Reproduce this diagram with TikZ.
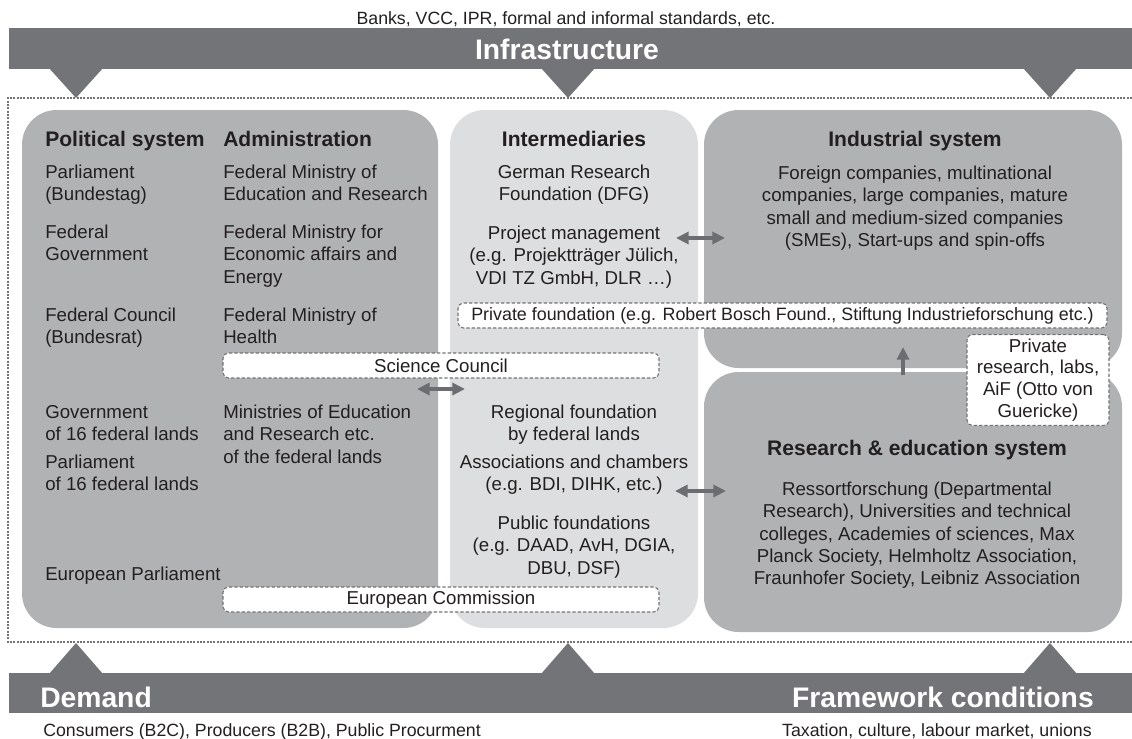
\documentclass[tikz,border=0pt]{standalone}
\usepackage{fontspec}
\setmainfont{Liberation Sans}
\usepackage{xcolor}
\usetikzlibrary{arrows.meta,positioning}

\definecolor{bargray}{RGB}{115,116,120}
\definecolor{boxgray}{RGB}{177,178,180}
\definecolor{lightgray}{RGB}{221,222,223}
\definecolor{arrowgray}{RGB}{108,109,112}
\definecolor{dashgray}{RGB}{115,115,117}
\definecolor{ink}{RGB}{35,31,32}

\newcommand{\bodyfont}{\fontsize{14}{16.6}\selectfont}
\newcommand{\headfont}{\fontsize{15.8}{19}\selectfont\bfseries}

\begin{document}
\begin{tikzpicture}[x=0.75pt, y=-0.75pt,
    txt/.style={font=\bodyfont, text=ink, inner sep=0pt, align=left, anchor=north west},
    ctxt/.style={txt, align=center, anchor=north},
    head/.style={font=\headfont, text=ink, inner sep=0pt, anchor=base west},
    banner/.style={font=\fontsize{21.2}{25}\selectfont\bfseries, text=white, inner sep=0pt},
    note/.style={font=\fontsize{13.3}{16}\selectfont, text=ink, inner sep=0pt},
    dashbox/.style={draw=dashgray, dash pattern=on 2.5pt off 1.5pt, fill=white, rounded corners=4pt,
        line width=0.8pt, font=\bodyfont, text=ink, inner sep=0pt},
    twoway/.style={arrowgray, line width=2.6pt, {Triangle[length=9.5pt,width=9pt]}-{Triangle[length=9.5pt,width=9pt]}},
    oneway/.style={arrowgray, line width=2.6pt, -{Triangle[length=9.5pt,width=9pt]}},
    sysbox/.style={rounded corners=26pt}]
\useasboundingbox (0,0) rectangle (1132,739);

% banners top and bottom
\fill[bargray] (9,28) rectangle (1132,69);
\fill[bargray] (9,673) rectangle (1132,713);
\foreach \x in {76,568,1050} {
    \fill[bargray] (\x-27,68) -- (\x+27,68) -- (\x,98) -- cycle;
    \fill[bargray] (\x-27,674) -- (\x+27,674) -- (\x,643) -- cycle;
}
\node[banner] (infra) at (567,49) {Infrastructure};
\node[banner, anchor=west] (demand) at (40,697) {Demand};
\node[banner, anchor=east] (framework) at (1094,697) {Framework conditions};
\node[note, anchor=base] (infranote) at (566,24.3) {Banks, VCC, IPR, formal and informal standards, etc.};
\node[note, anchor=base west] (demandnote) at (43,736) {Consumers (B2C), Producers (B2B), Public Procurment};
\node[note, anchor=base east] (frameworknote) at (1092,736) {Taxation, culture, labour market, unions};

% dotted frame
\draw[dashgray, line width=1.4pt, dash pattern=on 1.6pt off 0.9pt]
    (1132,98) -- (8,98) -- (8,642) -- (1132,642);

% system boxes
\fill[boxgray, sysbox] (22,110) rectangle (438,628);
\fill[lightgray, sysbox] (450,110) rectangle (698,628);
\fill[boxgray, sysbox] (704,110) rectangle (1122,368);
\fill[boxgray, sysbox] (704,372) rectangle (1122,632);

% shared bodies
\node[dashbox, minimum width=327pt, minimum height=18.75pt] (science) at (441,365.5) {Science Council};
\node[dashbox, minimum width=327pt, minimum height=18.75pt] (commission) at (441,599.5) {European Commission};
\node[dashbox, minimum width=486.75pt, minimum height=18.75pt, font=\fontsize{13.4}{16}\selectfont] (privfound) at (782.5,315.5)
    {Private foundation (e.g. Robert Bosch Found., Stiftung Industrieforschung etc.)};
\node[dashbox, minimum width=106.5pt, minimum height=68.25pt, align=center,
    font=\fontsize{14}{16.3}\selectfont] (privres) at (1038,380)
    {Private\\research, labs,\\AiF (Otto von\\Guericke)};

% arrows
\coordinate (scL) at (417,389);  \coordinate (scR) at (465,389);
\coordinate (pmL) at (676,238);  \coordinate (pmR) at (725,238);
\coordinate (asL) at (675,491);  \coordinate (asR) at (726,491);
\coordinate (upS) at (903,375);  \coordinate (upE) at (903,347);
\draw[twoway] (scL) -- (scR);
\draw[twoway] (pmL) -- (pmR);
\draw[twoway] (asL) -- (asR);
\draw[oneway] (upS) -- (upE);

% political system and administration
\node[head] (polhead) at (45,146.5) {Political system};
\node[head] (admhead) at (223,146.5) {Administration};
\node[txt] (bundestag) at (45,165) {Parliament\\(Bundestag)};
\node[txt] (fedgov) at (45,225) {Federal\\Government};
\node[txt] (bundesrat) at (45,308) {Federal Council\\(Bundesrat)};
\node[txt] (landgov) at (45,405) {Government\\of 16 federal lands};
\node[txt] (landparl) at (45,455) {Parliament\\of 16 federal lands};
\node[txt] (euparl) at (45,567) {European Parliament};
\node[txt] (bmbf) at (223,165) {Federal Ministry of\\Education and Research};
\node[txt] (bmwi) at (223,225) {Federal Ministry for\\Economic affairs and\\Energy};
\node[txt] (bmg) at (223,308) {Federal Ministry of\\Health};
\node[txt] (landmin) at (223,405) {Ministries of Education\\and Research etc.\\of the federal lands};

% intermediaries
\node[head, anchor=base] (interhead) at (574,146.5) {Intermediaries};
\node[ctxt] (dfg) at (574,165) {German Research\\Foundation (DFG)};
\node[ctxt] (projman) at (574,226) {Project management\\(e.g. Projektträger Jülich,\\VDI TZ GmbH, DLR …)};
\node[ctxt] (regfound) at (574,405) {Regional foundation\\by federal lands};
\node[ctxt] (chambers) at (574,455) {Associations and chambers\\(e.g. BDI, DIHK, etc.)};
\node[ctxt] (pubfound) at (574,516) {Public foundations\\(e.g. DAAD, AvH, DGIA,\\DBU, DSF)};

% industry and research
\node[head, anchor=base] (indhead) at (915,146.5) {Industrial system};
\node[ctxt] (companies) at (915,166) {Foreign companies, multinational\\companies, large companies, mature\\small and medium-sized companies\\(SMEs), Start-ups and spin-offs};
\node[head, anchor=base] (reshead) at (917,455.5) {Research \& education system};
\node[ctxt] (institutes) at (917,482) {Ressortforschung (Departmental\\Research), Universities and technical\\colleges, Academies of sciences, Max\\Planck Society, Helmholtz Association,\\Fraunhofer Society, Leibniz Association};
\end{tikzpicture}
\end{document}
